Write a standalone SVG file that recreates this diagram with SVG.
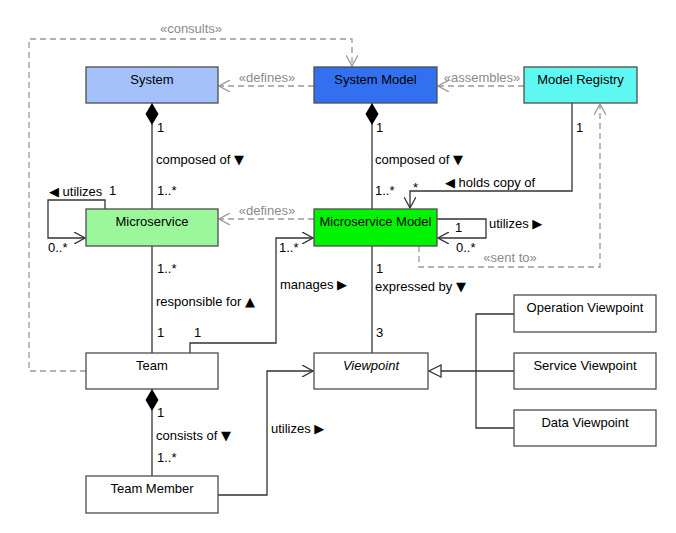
<svg xmlns="http://www.w3.org/2000/svg" width="676" height="533" viewBox="0 0 676 533">
<defs>
<style>
.box{stroke:#4d4d4d;stroke-width:1.3}
.t{font-family:"Liberation Sans",Arial,sans-serif;font-size:13px;fill:#000}
.c{text-anchor:middle}
.g{fill:#8a8a8a}
.ar{font-family:"DejaVu Sans",sans-serif;font-size:13px}
.ln{fill:none;stroke:#333;stroke-width:1.3}
.dl{fill:none;stroke:#999;stroke-width:1.3;stroke-dasharray:6,4}
</style>
<marker id="oa" viewBox="0 0 12 12" refX="11" refY="6" markerWidth="12" markerHeight="12" markerUnits="userSpaceOnUse" orient="auto">
<path d="M0,0 L11,6 L0,12" fill="none" stroke="#333" stroke-width="1.3"/>
</marker>
<marker id="ga" viewBox="0 0 12 12" refX="11" refY="6" markerWidth="12" markerHeight="12" markerUnits="userSpaceOnUse" orient="auto">
<path d="M0,0 L11,6 L0,12" fill="none" stroke="#999" stroke-width="1.3"/>
</marker>
<marker id="tri" viewBox="0 0 14 14" refX="13" refY="7" markerWidth="14" markerHeight="14" markerUnits="userSpaceOnUse" orient="auto">
<path d="M1,1 L13,7 L1,13 Z" fill="#fff" stroke="#333" stroke-width="1.3"/>
</marker>
</defs>
<rect width="676" height="533" fill="#fff"/>

<g id="connectors">
<path class="dl" d="M86,371 H29 V39 H352 V66" marker-end="url(#ga)"/>
<text class="t c g" x="191" y="33">«consults»</text>
<path class="dl" d="M314,86 H219" marker-end="url(#ga)"/>
<text class="t c g" x="267" y="82">«defines»</text>
<path class="dl" d="M524,86 H438" marker-end="url(#ga)"/>
<text class="t c g" x="482" y="82">«assembles»</text>
<path class="dl" d="M314,219 H219" marker-end="url(#ga)"/>
<text class="t c g" x="267" y="215">«defines»</text>
<path class="dl" d="M419,246 V267 H600 V104" marker-end="url(#ga)"/>
<text class="t c g" x="510" y="262">«sent to»</text>

<path class="ln" d="M152,209 V103"/>
<path d="M152,103 L158.5,114 L152,125 L145.5,114 Z" fill="#000"/>
<text class="t" x="157" y="132">1</text>
<text class="t" x="156" y="164">composed of <tspan class="ar">▼</tspan></text>
<text class="t" x="157" y="195">1..*</text>

<path class="ln" d="M372,209 V103"/>
<path d="M372,103 L378.5,114 L372,125 L365.5,114 Z" fill="#000"/>
<text class="t" x="376" y="132">1</text>
<text class="t" x="375" y="164">composed of <tspan class="ar">▼</tspan></text>
<text class="t" x="375" y="195">1..*</text>

<path class="ln" d="M105,209 V200 H48 V238 H85" marker-end="url(#oa)"/>
<text class="t" x="49" y="196"><tspan class="ar">◀</tspan> utilizes</text>
<text class="t" x="109" y="195">1</text>
<text class="t" x="48" y="252">0..*</text>

<path class="ln" d="M437,219 H486 V238 H438" marker-end="url(#oa)"/>
<text class="t" x="455" y="232">1</text>
<text class="t" x="456" y="252">0..*</text>
<text class="t" x="489" y="228">utilizes <tspan class="ar">▶</tspan></text>

<path class="ln" d="M572,103 V191 H410 V208" marker-end="url(#oa)"/>
<text class="t" x="576" y="132">1</text>
<text class="t" x="445" y="187"><tspan class="ar">◀</tspan> holds copy of</text>
<text class="t" x="413" y="192">*</text>

<path class="ln" d="M152,246 V353"/>
<text class="t" x="157" y="273">1..*</text>
<text class="t" x="156" y="306">responsible for <tspan class="ar">▲</tspan></text>
<text class="t" x="157" y="337">1</text>

<path class="ln" d="M190,353 V343 H276 V238 H313" marker-end="url(#oa)"/>
<text class="t" x="194" y="337">1</text>
<text class="t" x="279" y="252">1..*</text>
<text class="t" x="280" y="289">manages <tspan class="ar">▶</tspan></text>

<path class="ln" d="M372,246 V353"/>
<text class="t" x="376" y="273">1</text>
<text class="t" x="375" y="291">expressed by <tspan class="ar">▼</tspan></text>
<text class="t" x="376" y="337">3</text>

<path class="ln" d="M152,476 V389"/>
<path d="M152,389 L158.5,400 L152,411 L145.5,400 Z" fill="#000"/>
<text class="t" x="157" y="417">1</text>
<text class="t" x="156" y="440">consists of <tspan class="ar">▼</tspan></text>
<text class="t" x="157" y="462">1..*</text>

<path class="ln" d="M218,495 H267 V371 H313" marker-end="url(#oa)"/>
<text class="t" x="271" y="433">utilizes <tspan class="ar">▶</tspan></text>

<path class="ln" d="M514,371 H429" marker-end="url(#tri)"/>
<path class="ln" d="M514,314 H476 V428 H514"/>
</g>

<g id="system"><rect class="box" x="86" y="67" width="132" height="36" fill="#a4c2f9"/><text class="t c" x="152" y="84">System</text></g>
<g id="system-model"><rect class="box" x="314" y="67" width="123" height="36" fill="#3270ef"/><text class="t c" x="375.5" y="84">System Model</text></g>
<g id="model-registry"><rect class="box" x="524" y="67" width="113" height="36" fill="#5ff7f2"/><text class="t c" x="580.5" y="84">Model Registry</text></g>
<g id="microservice"><rect class="box" x="86" y="209" width="132" height="37" fill="#9cf79a"/><text class="t c" x="152" y="226">Microservice</text></g>
<g id="microservice-model"><rect class="box" x="314" y="209" width="123" height="37" fill="#00f300"/><text class="t c" x="375.5" y="226">Microservice Model</text></g>
<g id="team"><rect class="box" x="86" y="353" width="132" height="36" fill="#fff"/><text class="t c" x="152" y="370">Team</text></g>
<g id="team-member"><rect class="box" x="86" y="476" width="132" height="37" fill="#fff"/><text class="t c" x="152" y="493">Team Member</text></g>
<g id="viewpoint"><rect class="box" x="314" y="353" width="114" height="36" fill="#fff"/><text class="t c" x="371" y="370" font-style="italic">Viewpoint</text></g>
<g id="operation-viewpoint"><rect class="box" x="514" y="295" width="142" height="37" fill="#fff"/><text class="t c" x="585" y="312">Operation Viewpoint</text></g>
<g id="service-viewpoint"><rect class="box" x="514" y="353" width="142" height="36" fill="#fff"/><text class="t c" x="585" y="370">Service Viewpoint</text></g>
<g id="data-viewpoint"><rect class="box" x="514" y="410" width="142" height="36" fill="#fff"/><text class="t c" x="585" y="427">Data Viewpoint</text></g>
</svg>
